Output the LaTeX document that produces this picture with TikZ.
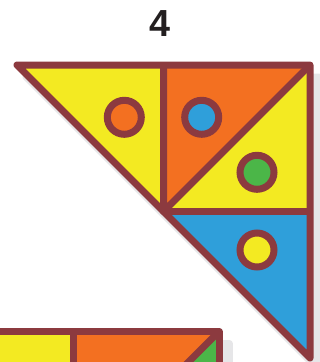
\documentclass[tikz,border=0pt]{standalone}
\usepackage{fontspec}
\setmainfont{Liberation Sans}
\definecolor{edge}{HTML}{8C3A3F}
\definecolor{tyellow}{HTML}{F3EA22}
\definecolor{torange}{HTML}{F37021}
\definecolor{tblue}{HTML}{2F9FDA}
\definecolor{tgreen}{HTML}{4BB648}
\definecolor{shade}{HTML}{E6E6E8}
\definecolor{ink}{HTML}{231F20}
\begin{document}
\begin{tikzpicture}[x=1pt,y=-1pt,
  piece/.style={draw=edge,line width=7pt,line join=round},
  shadowpiece/.style={fill=shade,draw=shade,line width=7pt,line join=round},
  dot/.style={draw=edge,line width=7pt}]
\useasboundingbox (0,0) rectangle (320,362);
\clip (0,0) rectangle (320,362);
% title
\node[font=\bfseries\fontsize{37.7}{40}\selectfont,text=ink] (title) at (160,23.5) {4};
% coordinates big figure
\coordinate (A) at (17,65);
\coordinate (B) at (163.5,65);
\coordinate (C) at (310,65);
\coordinate (M) at (163.5,211.5);
\coordinate (R) at (310,211.5);
\coordinate (D) at (310,358);
% shadow
\path[shadowpiece] ([shift={(9,12)}]A) -- ([shift={(9,12)}]C) -- ([shift={(9,12)}]D) -- cycle;
% pieces
\fill[tyellow] (A) -- (B) -- (M) -- cycle;
\fill[torange] (B) -- (C) -- (M) -- cycle;
\fill[tyellow] (C) -- (R) -- (M) -- cycle;
\fill[tblue] (M) -- (R) -- (D) -- cycle;
\draw[piece] (B) -- (M) -- (C);
\draw[piece] (M) -- (R);
\draw[piece] (A) -- (C) -- (D) -- cycle;
% dots
\draw[dot,fill=torange] (124.3,117.3) circle[radius=17];
\draw[dot,fill=tblue] (201.7,117.3) circle[radius=17];
\draw[dot,fill=tgreen] (257,172.3) circle[radius=17];
\draw[dot,fill=tyellow] (257,250) circle[radius=17];
% bottom figure
\coordinate (P) at (-80,331.5);
\coordinate (Q) at (73,331.5);
\coordinate (S) at (219,331.5);
\coordinate (T) at (219,480);
\coordinate (U) at (73,477.5);
\coordinate (V) at (-80,480);
\path[shadowpiece] ([shift={(10,12)}]P) -- ([shift={(10,12)}]S) -- ([shift={(10,12)}]T) -- ([shift={(10,12)}]V) -- cycle;
\fill[tyellow] (P) -- (Q) -- (U) -- (V) -- cycle;
\fill[torange] (Q) -- (S) -- (U) -- cycle;
\fill[tgreen] (S) -- (T) -- (U) -- cycle;
\draw[piece] (Q) -- (U);
\draw[piece] (S) -- (U);
\draw[piece] (P) -- (S) -- (T) -- (V) -- cycle;
\end{tikzpicture}
\end{document}
